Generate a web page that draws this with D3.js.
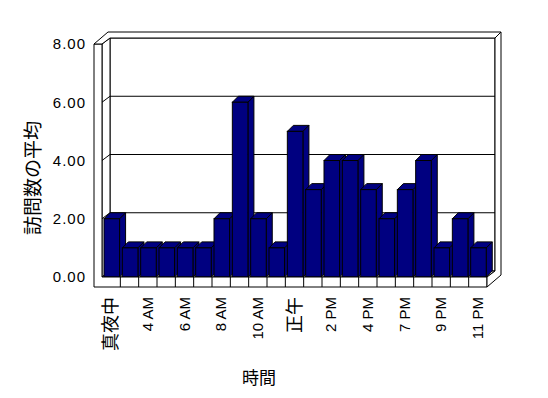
<!DOCTYPE html>
<html>
<head>
<meta charset="utf-8">
<script src="https://cdn.jsdelivr.net/npm/d3@7"></script>
<style>
  body { margin: 0; background: #fff; }
  svg text { font-family: "Liberation Sans", Arial, sans-serif; fill: #000; }
  svg text.cjk { font-family: "Noto Sans CJK JP", sans-serif; }
</style>
</head>
<body>
<div id="chart"></div>
<script>
// hourly categories (only every other one gets a label)
const hours = ["真夜中", "2 AM", "4 AM", "5 AM", "6 AM", "7 AM", "8 AM", "9 AM", "10 AM", "11 AM",
               "正午", "1 PM", "2 PM", "3 PM", "4 PM", "5 PM", "7 PM", "8 PM", "9 PM", "10 PM", "11 PM"];
const visits = [2, 1, 1, 1, 1, 1, 2, 6, 2, 1, 5, 3, 4, 4, 3, 2, 3, 4, 1, 2, 1];
const yTicks = [0, 2, 4, 6, 8];
const xTickLabels = ["真夜中", "4 AM", "6 AM", "8 AM", "10 AM", "正午", "2 PM", "4 PM", "7 PM", "9 PM", "11 PM"];

const width = 548, height = 398;

const svg = d3.select("#chart").append("svg")
    .attr("width", width)
    .attr("height", height);

const x = d3.scaleBand().domain(hours).range([102, 487]).padding(0);
const y = d3.scaleLinear().domain([0, 8]).range([277, 44]);

// depth offsets: back wall inner face, outer face, bar depth
const inner = [8, -6], outer = [14, -12], bar = [6, -6];
const wallW = 8, floorH = 10;

const x0 = x.range()[0], x1 = x.range()[1];
const yb = y(0), yt = y(8);
const line = d3.line();

function poly(pts) {
    return svg.append("path")
        .attr("d", line(pts) + "Z")
        .attr("fill", "#fff")
        .attr("stroke", "#000")
        .attr("stroke-width", 1);
}

// walls + floor
poly([[x0 + inner[0], yt + inner[1]], [x1 + inner[0], yt + inner[1]],
      [x1 + inner[0], yb + inner[1]], [x0 + inner[0], yb + inner[1]]]);
poly([[x0, yt], [x0 + inner[0], yt + inner[1]], [x0 + inner[0], yb + inner[1]], [x0, yb]]);
poly([[x0, yb], [x1, yb], [x1 + inner[0], yb + inner[1]], [x0 + inner[0], yb + inner[1]]]);

// gridlines
const grid = yTicks.filter(d => d > 0 && d < 8);
svg.selectAll(".grid")
    .data(grid)
    .join("path")
    .attr("class", "grid")
    .attr("fill", "none")
    .attr("stroke", "#000")
    .attr("d", d => line([[x0 - wallW, y(d)], [x0, y(d)],
                           [x0 + inner[0], y(d) + inner[1]], [x1 + inner[0], y(d) + inner[1]]]));

// bars, left to right so the next one covers the previous side
const bw = x.bandwidth() * 0.85;
const bars = svg.selectAll(".bar")
    .data(hours.map((h, i) => ({ h: h, v: visits[i] })))
    .join("g")
    .attr("class", "bar");

bars.append("path")
    .attr("fill", "#000080").attr("stroke", "#000")
    .attr("d", d => {
        const bx = x(d.h) + 2, top = y(d.v);
        return line([[bx + bw, top], [bx + bw + bar[0], top + bar[1]],
                     [bx + bw + bar[0], yb + bar[1]], [bx + bw, yb]]) + "Z";
    });
bars.append("path")
    .attr("fill", "#000080").attr("stroke", "#000")
    .attr("d", d => {
        const bx = x(d.h) + 2, top = y(d.v);
        return line([[bx, top], [bx + bar[0], top + bar[1]],
                     [bx + bw + bar[0], top + bar[1]], [bx + bw, top]]) + "Z";
    });
bars.append("rect")
    .attr("fill", "#000080").attr("stroke", "#000")
    .attr("x", d => x(d.h) + 2)
    .attr("y", d => y(d.v))
    .attr("width", bw)
    .attr("height", d => yb - y(d.v));

// front faces: left wall + floor
poly([[x0 - wallW, yt], [x0, yt], [x0, yb], [x1, yb], [x1, yb + floorH], [x0 - wallW, yb + floorH]]);
// top of walls
poly([[x0 - wallW, yt], [x0, yt], [x0 + inner[0], yt + inner[1]], [x1 + inner[0], yt + inner[1]],
      [x1 + outer[0], yt + outer[1]], [x0 - wallW + outer[0], yt + outer[1]]]);
// right edge of back wall and floor
poly([[x1 + inner[0], yt + inner[1]], [x1 + outer[0], yt + outer[1]],
      [x1 + outer[0], yb + floorH + outer[1]], [x1, yb + floorH], [x1, yb],
      [x1 + inner[0], yb + inner[1]]]);

// category ticks on floor front
svg.selectAll(".ctick")
    .data(hours.slice(1))
    .join("line")
    .attr("stroke", "#000")
    .attr("x1", d => x(d)).attr("x2", d => x(d))
    .attr("y1", yb).attr("y2", yb + floorH);

// y axis labels
svg.selectAll(".ylab")
    .data(yTicks)
    .join("text")
    .attr("class", "ylab")
    .attr("x", x0 - wallW - 8)
    .attr("y", d => y(d))
    .attr("dy", "0.35em")
    .attr("text-anchor", "end")
    .attr("font-size", 15)
    .attr("letter-spacing", 1)
    .text(d3.format(".2f"));

// x labels, rotated
const isLatin = s => /[A-Z]/.test(s);
svg.selectAll(".xlab")
    .data(xTickLabels)
    .join("text")
    .attr("class", d => isLatin(d) ? "xlab" : "xlab cjk")
    .attr("font-size", d => isLatin(d) ? 15 : 18)
    .attr("text-anchor", "end")
    .attr("dy", "0.35em")
    .attr("transform", d => `translate(${x(d) + x.bandwidth() / 2},${yb + floorH + 10}) rotate(-90)`)
    .text(d => d);

// axis titles
svg.append("text")
    .attr("class", "cjk")
    .attr("font-size", 19)
    .attr("text-anchor", "middle")
    .attr("dominant-baseline", "central")
    .attr("transform", "translate(31,178) rotate(-90)")
    .text("訪問数の平均");

svg.append("text")
    .attr("class", "cjk")
    .attr("font-size", 17)
    .attr("text-anchor", "middle")
    .attr("dominant-baseline", "central")
    .attr("x", 259)
    .attr("y", 376)
    .text("時間");
</script>
</body>
</html>
